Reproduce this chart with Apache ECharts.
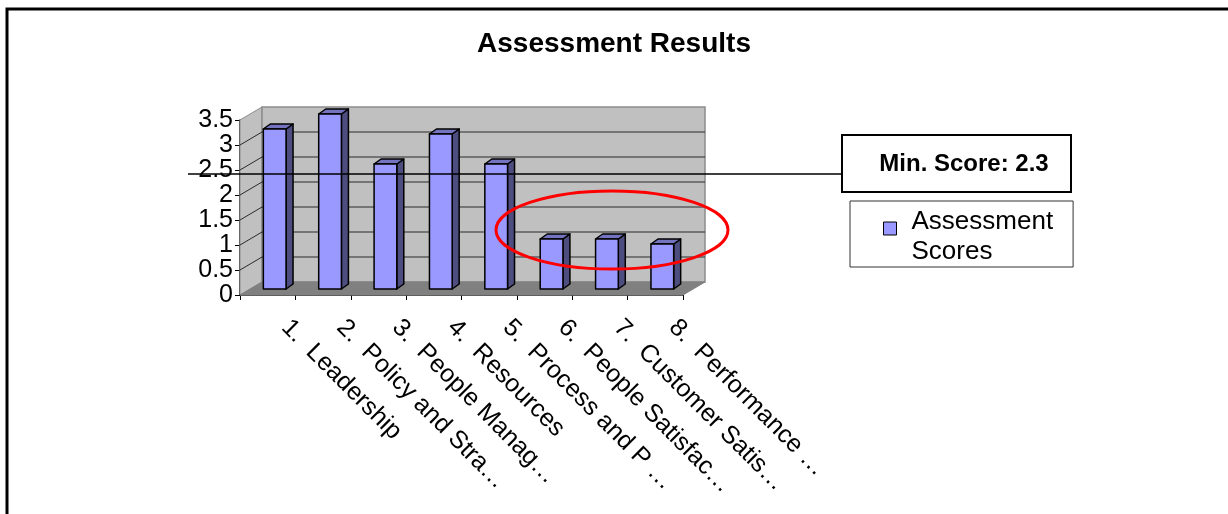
<!DOCTYPE html>
<html>
<head>
<meta charset="utf-8">
<title>Assessment Results</title>
<script src="https://cdn.jsdelivr.net/npm/echarts@6/dist/echarts.min.js"></script>
<style>
  html, body { margin: 0; padding: 0; background: #ffffff; }
  #chart { width: 1228px; height: 514px; }
</style>
</head>
<body>
<div id="chart"></div>
<script>
// Assessment criteria and their scores
const categories = [
  '1.  Leadership',
  '2.  Policy and Stra\u2026',
  '3.  People Manag\u2026',
  '4.  Resources',
  '5.  Process and P \u2026',
  '6.  People Satisfac\u2026',
  '7.  Customer Satis\u2026',
  '8.  Performance \u2026'
];
const scores = [3.2, 3.5, 2.5, 3.1, 2.5, 1.0, 1.0, 0.9];
const yTicks = [0, 0.5, 1, 1.5, 2, 2.5, 3, 3.5];
const minScore = 2.3;
const seriesName = 'Assessment Scores';

// Pseudo-3D geometry (pixel offsets of the oblique projection)
const DX = 22, DY = -13;      // full depth of the plot box
const FX = 7, FY = -6;        // depth at which the bar fronts sit
const BX = 7, BY = -5;        // depth of each bar
const BAR_RATIO = 0.41;       // bar width relative to category band
const yMax = yTicks[yTicks.length - 1];
const FONT = '"Liberation Sans", Arial, sans-serif';
const boxLeft = 842;          // left edge of the minimum score callout

function plotFrame(api) {
  const band = api.size([1, 0])[0];
  const n = categories.length;
  return {
    band: band,
    x0: api.coord([0, 0])[0] - band / 2,
    x1: api.coord([n - 1, 0])[0] + band / 2,
    y0: api.coord([0, 0])[1],
    yTop: api.coord([0, yMax])[1]
  };
}

// Side wall, back wall, floor and gridlines
function renderWalls(params, api) {
  const f = plotFrame(api);
  const children = [];
  children.push({
    type: 'polygon',
    shape: { points: [[f.x0, f.y0], [f.x0 + DX, f.y0 + DY], [f.x0 + DX, f.yTop + DY], [f.x0, f.yTop]] },
    style: { fill: '#C0C0C0', stroke: '#8C8C8C', lineWidth: 1 }
  });
  children.push({
    type: 'rect',
    shape: { x: f.x0 + DX, y: f.yTop + DY, width: f.x1 - f.x0, height: f.y0 - f.yTop },
    style: { fill: '#C0C0C0', stroke: '#8C8C8C', lineWidth: 1.5 }
  });
  children.push({
    type: 'polygon',
    shape: { points: [[f.x0, f.y0], [f.x1, f.y0], [f.x1 + DX, f.y0 + DY], [f.x0 + DX, f.y0 + DY]] },
    style: { fill: '#808080', stroke: '#808080', lineWidth: 1 }
  });
  yTicks.forEach(function (t) {
    if (t <= 0 || t >= yMax) return;
    const y = api.coord([0, t])[1];
    children.push({
      type: 'line',
      shape: { x1: f.x0 + DX, y1: y + DY, x2: f.x1 + DX, y2: y + DY },
      style: { stroke: '#2A2A2A', lineWidth: 1 }
    });
    children.push({
      type: 'line',
      shape: { x1: f.x0, y1: y, x2: f.x0 + DX, y2: y + DY },
      style: { stroke: '#2A2A2A', lineWidth: 1 }
    });
  });
  return { type: 'group', children: children };
}

// One 3D column per score
function renderBar(params, api) {
  const idx = api.value(0);
  const v = api.value(1);
  const base = api.coord([idx, 0]);
  const top = api.coord([idx, v]);
  const w = api.size([1, 0])[0] * BAR_RATIO;
  const xl = base[0] - w / 2 + FX;
  const xr = xl + w;
  const yb = base[1] + FY;
  const yt = top[1] + FY;
  const edge = { stroke: '#000000', lineWidth: 1.5, lineJoin: 'round' };
  return {
    type: 'group',
    children: [
      {
        type: 'polygon',
        shape: { points: [[xr, yt], [xr + BX, yt + BY], [xr + BX, yb + BY], [xr, yb]] },
        style: Object.assign({ fill: '#4D4D80' }, edge)
      },
      {
        type: 'polygon',
        shape: { points: [[xl, yt], [xl + BX, yt + BY], [xr + BX, yt + BY], [xr, yt]] },
        style: Object.assign({ fill: '#7373BF' }, edge)
      },
      {
        type: 'rect',
        shape: { x: xl, y: yt, width: w, height: yb - yt },
        style: Object.assign({ fill: '#9999FF' }, edge)
      }
    ]
  };
}

// Minimum score reference line, running out to its callout box
function renderMinLine(params, api) {
  const f = plotFrame(api);
  const y = api.coord([0, api.value(1)])[1] + FY;
  return {
    type: 'line',
    shape: { x1: f.x0 - 52, y1: y, x2: boxLeft, y2: y },
    style: { stroke: '#000000', lineWidth: 1.5 }
  };
}

const chart = echarts.init(document.getElementById('chart'), null, { renderer: 'canvas' });

chart.setOption({
  backgroundColor: '#ffffff',
  animation: false,
  textStyle: { fontFamily: FONT },
  title: {
    text: 'Assessment Results',
    left: 'center',
    top: 30,
    padding: [0, 0, 0, 8],
    textStyle: { fontFamily: FONT, fontSize: 28, fontWeight: 'bold', color: '#000000' }
  },
  grid: { left: 240, top: 120, width: 443, height: 175, containLabel: false },
  legend: {
    data: [seriesName],
    orient: 'vertical',
    left: 850,
    top: 201,
    padding: [6, 20, 0, 33],
    backgroundColor: '#ffffff',
    borderColor: '#333333',
    borderWidth: 1,
    borderRadius: 0,
    itemWidth: 23,
    itemHeight: 44,
    icon: 'path://M0,0L0,0M0,7H13V20H0ZM23,44L23,44',
    itemStyle: { color: '#9999FF', borderColor: '#000000', borderWidth: 1 },
    formatter: function () { return 'Assessment\nScores'; },
    textStyle: { fontFamily: FONT, fontSize: 26, lineHeight: 30, color: '#000000' }
  },
  xAxis: {
    type: 'category',
    data: categories,
    boundaryGap: true,
    axisLine: { show: true, lineStyle: { color: '#000000', width: 1.5 } },
    axisTick: { show: true, length: 5, lineStyle: { color: '#000000' } },
    axisLabel: {
      interval: 0,
      rotate: -45,
      margin: 11,
      padding: [0, 0, 0, 25],
      fontFamily: FONT,
      fontSize: 25,
      color: '#000000'
    },
    splitLine: { show: false }
  },
  yAxis: {
    type: 'value',
    min: 0,
    max: yMax,
    interval: 0.5,
    axisLine: { show: true, lineStyle: { color: '#000000', width: 1.5 } },
    axisTick: { show: true, length: 5, lineStyle: { color: '#000000' } },
    axisLabel: {
      margin: 7,
      fontFamily: FONT,
      fontSize: 25,
      color: '#000000',
      showMinLabel: true,
      showMaxLabel: true
    },
    splitLine: { show: false }
  },
  series: [
    {
      name: 'walls',
      type: 'custom',
      silent: true,
      clip: false,
      z: 1,
      renderItem: renderWalls,
      encode: { x: 0, y: 1 },
      data: [[0, 0]]
    },
    {
      name: seriesName,
      type: 'custom',
      clip: false,
      z: 3,
      itemStyle: { color: '#9999FF' },
      renderItem: renderBar,
      encode: { x: 0, y: 1 },
      data: scores.map(function (v, i) { return [i, v]; })
    },
    {
      name: 'minimum',
      type: 'custom',
      silent: true,
      clip: false,
      z: 5,
      renderItem: renderMinLine,
      encode: { x: 0, y: 1 },
      data: [[0, minScore]]
    }
  ],
  graphic: [
    {
      type: 'polyline',
      z: 50,
      shape: { points: [[7, 514], [7, 9], [1228, 9]] },
      style: { stroke: '#000000', lineWidth: 3, fill: null }
    },
    {
      type: 'group',
      z: 60,
      children: [
        {
          type: 'rect',
          shape: { x: boxLeft, y: 135, width: 229, height: 57 },
          style: { fill: '#ffffff', stroke: '#000000', lineWidth: 2 }
        },
        {
          type: 'text',
          style: {
            x: boxLeft + 122,
            y: 164,
            text: 'Min. Score: ' + minScore,
            align: 'center',
            verticalAlign: 'middle',
            font: 'bold 24px ' + FONT,
            fill: '#000000'
          }
        }
      ]
    },
    {
      type: 'ellipse',
      z: 70,
      shape: { cx: 612, cy: 230, rx: 116, ry: 39 },
      style: { fill: null, stroke: '#FF0000', lineWidth: 3 }
    }
  ]
});
</script>
</body>
</html>
